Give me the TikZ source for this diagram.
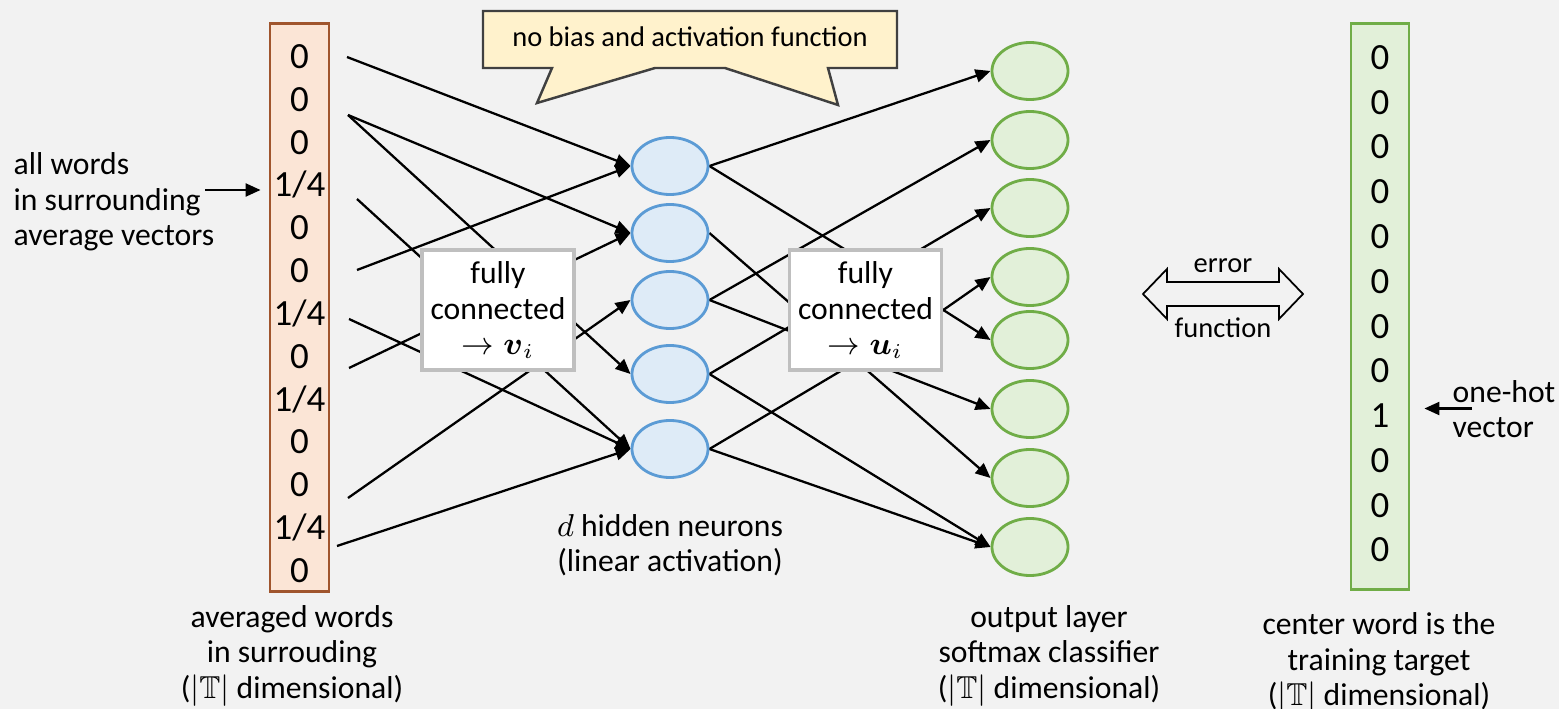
\documentclass[tikz,border=0pt]{standalone}
\usepackage{amsmath,amssymb}
\usepackage{fontspec}
\setmainfont{Carlito}
\usepackage{xcolor}
\usepackage{tikz}
\usetikzlibrary{arrows.meta,positioning,calc,shapes.geometric,backgrounds}
\definecolor{bgGray}{RGB}{242,242,242}
\definecolor{InFill}{RGB}{251,229,214}
\definecolor{InLine}{RGB}{160,85,45}
\definecolor{HidFill}{RGB}{222,235,247}
\definecolor{HidLine}{RGB}{91,155,213}
\definecolor{OutFill}{RGB}{226,240,217}
\definecolor{OutLine}{RGB}{112,173,71}
\definecolor{NoteFill}{RGB}{255,242,204}
\definecolor{NoteLine}{RGB}{64,64,64}
\definecolor{BoxLine}{RGB}{191,191,191}
\newcommand{\capfont}{\fontsize{9}{10.1}\selectfont}
\newcommand{\entryfont}{\fontsize{10.5}{12}\selectfont}
\newcommand{\notefont}{\fontsize{8.1}{9.5}\selectfont}
\newcommand{\qtr}{1/4}

\begin{document}
\begin{tikzpicture}[x=0.01cm,y=-0.01cm,
   arr/.style={-{Triangle[length=1.5mm,width=1.3mm]},line width=0.65pt},
   wire/.style={line width=0.65pt},
   vecbox/.style={rectangle,line width=0.8pt,inner sep=0pt},
   entry/.style={font=\entryfont,inner sep=0pt,anchor=base},
   hidnode/.style={ellipse,draw=HidLine,fill=HidFill,line width=0.8pt,
      minimum width=0.76cm,minimum height=0.57cm,inner sep=0pt},
   outnode/.style={ellipse,draw=OutLine,fill=OutFill,line width=0.8pt,
      minimum width=0.76cm,minimum height=0.57cm,inner sep=0pt},
   fcbox/.style={rectangle,draw=BoxLine,fill=white,line width=1pt,inner xsep=1pt,
      minimum width=1.52cm,minimum height=1.2cm,align=center,font=\capfont},
   caption/.style={align=center,font=\capfont,inner sep=0pt}]
  \useasboundingbox (0,0) rectangle (1559,709);

  % input vector
  \node[vecbox,draw=InLine,fill=InFill,minimum width=0.59cm,minimum height=5.67cm]
     (lcol) at (299.5,307.5) {};
  \foreach \v [count=\k] in {0,0,0,\qtr,0,0,\qtr,0,\qtr,0,0,\qtr,0}
    \node[entry] (l\k) at (299.5,{68.5+42.83*(\k-1)}) {\v};
  \node[caption,align=left,anchor=west] (allw) at (13,202)
     {all words\\in surrounding\\average vectors};
  \coordinate (winA) at (205,190);
  \draw[arr,shorten >=0.8mm] (winA) -- (winA -| lcol.west);

  % target vector
  \node[vecbox,draw=OutLine,fill=OutFill,minimum width=0.58cm,minimum height=5.65cm]
     (rcol) at (1380,306.5) {};
  \foreach \v [count=\k] in {0,0,0,0,0,0,0,0,1,0,0,0}
    \node[entry] (r\k) at (1380,{69.5+44.75*(\k-1)}) {\v};
  \node[caption,align=left,anchor=west] (onehot) at (1452,409) {one-hot\\vector};
  \coordinate (hotA) at (1472,408.5);
  \draw[arr,shorten >=1.4mm] (hotA) -- (hotA -| rcol.east);

  % layers
  \foreach \y [count=\k] in {166,233,300,374,449}
    \node[hidnode] (h\k) at (670,\y) {};
  \foreach \y [count=\k] in {71,140,208,277,340,409,478,547}
    \node[outnode] (o\k) at (1030,\y) {};
  \node[fcbox] (fcv) at (498,310) {fully\\connected\\$\rightarrow \boldsymbol{v}_{i}$};
  \node[fcbox] (fcu) at (865.5,310) {fully\\connected\\$\rightarrow \boldsymbol{u}_{i}$};

  % call-out
  \draw[NoteLine,fill=NoteFill,line width=0.7pt]
    (483,11) -- (897,11) -- (897,68) -- (828,68) -- (838,105) -- (725,68)
    -- (655,68) -- (537,103) -- (552,68) -- (483,68) -- cycle;
  \node[font=\notefont] (nobias) at (690,37) {no bias and activation function};

  % error function
  \draw[line width=0.5pt] (1143,294) -- (1167,269) -- (1167,282) -- (1279,282)
    -- (1279,269) -- (1303,294) -- (1279,319) -- (1279,306) -- (1167,306)
    -- (1167,319) -- cycle;
  \node[font=\notefont] (errtxt) at (1223,266) {error};
  \node[font=\notefont] (funtxt) at (1223,328) {function};

  % captions
  \node[caption] (lcap) at (292,655.5)
     {averaged words\\in surrouding\\($|\mathbb{T}|$ dimensional)};
  \node[caption] (hcap) at (670,545) {$d$ hidden neurons\\(linear activation)};
  \node[caption] (ocap) at (1049,655.5)
     {output layer\\softmax classifier\\($|\mathbb{T}|$ dimensional)};
  \node[caption] (rcap) at (1379,663)
     {center word is the\\training target\\($|\mathbb{T}|$ dimensional)};

  \begin{scope}[on background layer]
    \fill[bgGray] (0,0) rectangle (1559,709);
    \coordinate (sa) at (347,57);
    \coordinate (sb) at (348,115);
    \coordinate (sc) at (357,199);
    \coordinate (sd) at (357,270);
    \coordinate (se) at (349,319);
    \coordinate (sf) at (349,368);
    \coordinate (sg) at (348,498);
    \coordinate (sh) at (337,546);
    \foreach \a/\b in {sa/h1,sd/h1,sb/h2,sf/h2,sg/h3,sb/h4,sc/h5,se/h5,sh/h5}
      \draw[arr] (\a) -- (\b.west);
    \foreach \a/\b in {h1/o1,h2/o7,h3/o2,h3/o6,h4/o3,h4/o8,h5/o8}
      \draw[arr] (\a.east) -- (\b.west);
    \foreach \a in {h1,h5}
      \draw[wire] (\a.east) -- (fcu.east);
    \foreach \b in {o4,o5}
      \draw[arr] (fcu.east) -- (\b.west);
  \end{scope}
\end{tikzpicture}
\end{document}
